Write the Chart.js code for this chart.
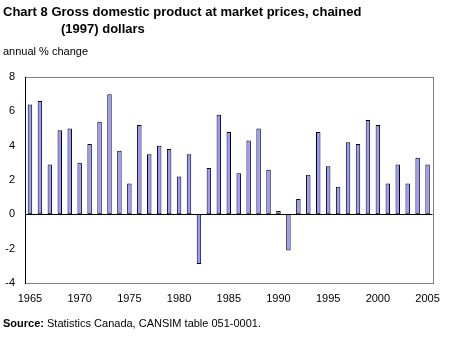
<!DOCTYPE html>
<html lang="en">
<head>
    <meta charset="UTF-8">
    <title>Chart 8 Gross domestic product</title>
    <script src="https://cdn.jsdelivr.net/npm/chart.js"></script>
    <style>
        body { margin: 0; background: #fff; font-family: "Liberation Sans", Arial, sans-serif; }
        #wrap { position: relative; width: 449px; height: 341px; overflow: hidden; }
        #gdpChart { position: absolute; left: 0; top: 0; }
        .txt { position: absolute; white-space: nowrap; color: #000; }
        .title { font-weight: bold; font-size: 13px; }
        .small { font-size: 11px; }
    </style>
</head>
<body>
    <div id="wrap">
        <canvas id="gdpChart" width="449" height="341"></canvas>
        <div class="txt title" style="left:3px; top:4px;">Chart 8 Gross domestic product at market prices, chained</div>
        <div class="txt title" style="left:61px; top:21px;">(1997) dollars</div>
        <div class="txt small" style="left:3px; top:45px;">annual % change</div>
        <div class="txt small" style="left:3px; top:317px;"><b>Source:</b> Statistics Canada, CANSIM table 051-0001.</div>
    </div>
    <script>
        const years = [];
        for (let y = 1965; y <= 2005; y++) years.push(String(y));

        const gdpChange = [
            6.4, 6.6, 2.9, 4.9, 5.0, 3.0, 4.1, 5.4, 7.0, 3.7,
            1.8, 5.2, 3.5, 4.0, 3.8, 2.2, 3.5, -2.9, 2.7, 5.8,
            4.8, 2.4, 4.3, 5.0, 2.6, 0.2, -2.1, 0.9, 2.3, 4.8,
            2.8, 1.6, 4.2, 4.1, 5.5, 5.2, 1.8, 2.9, 1.8, 3.3,
            2.9
        ];

        const yMin = -4, yMax = 8, yStep = 2;

        // frame: grey box, black left axis, black zero line
        const framePlugin = {
            id: 'frame',
            afterDatasetsDraw(chart) {
                const { ctx, chartArea: a, scales } = chart;
                ctx.save();
                ctx.lineWidth = 1;
                ctx.strokeStyle = '#808080';
                ctx.strokeRect(Math.round(a.left) + 0.5, Math.round(a.top) + 0.5,
                    Math.round(a.right - a.left), Math.round(a.bottom - a.top));
                ctx.strokeStyle = '#000';
                const x = Math.round(a.left) + 0.5;
                ctx.beginPath();
                ctx.moveTo(x, a.top);
                ctx.lineTo(x, a.bottom + 1);
                const y0 = Math.round(scales.y.getPixelForValue(0)) + 0.5;
                ctx.moveTo(a.left, y0);
                ctx.lineTo(a.right, y0);
                ctx.stroke();
                ctx.restore();
            }
        };

        new Chart(document.getElementById('gdpChart'), {
            type: 'bar',
            data: {
                labels: years,
                datasets: [{
                    data: gdpChange,
                    backgroundColor: '#9999ff',
                    borderColor: '#000',
                    borderWidth: 1,
                    borderSkipped: false,
                    barPercentage: 0.45,
                    categoryPercentage: 1.0
                }]
            },
            options: {
                responsive: false,
                animation: false,
                layout: { padding: { left: 0, right: 16, top: 77, bottom: 0 } },
                plugins: {
                    legend: { display: false },
                    tooltip: { enabled: false }
                },
                scales: {
                    x: {
                        offset: true,
                        grid: { display: false, drawTicks: false },
                        border: { display: false },
                        ticks: {
                            autoSkip: false,
                            maxRotation: 0,
                            padding: 9,
                            color: '#000',
                            font: { family: '"Liberation Sans", Arial, sans-serif', size: 11 },
                            callback: function (v, i) {
                                const lbl = this.getLabelForValue(v);
                                return Number(lbl) % 5 === 0 ? lbl : '';
                            }
                        },
                        afterFit(scale) { scale.height = 58; }
                    },
                    y: {
                        min: yMin,
                        max: yMax,
                        grid: { display: false, drawTicks: false },
                        border: { display: false },
                        ticks: {
                            stepSize: yStep,
                            padding: 10,
                            color: '#000',
                            font: { family: '"Liberation Sans", Arial, sans-serif', size: 11 }
                        },
                        afterFit(scale) { scale.width = 25; }
                    }
                }
            },
            plugins: [framePlugin]
        });
    </script>
</body>
</html>
